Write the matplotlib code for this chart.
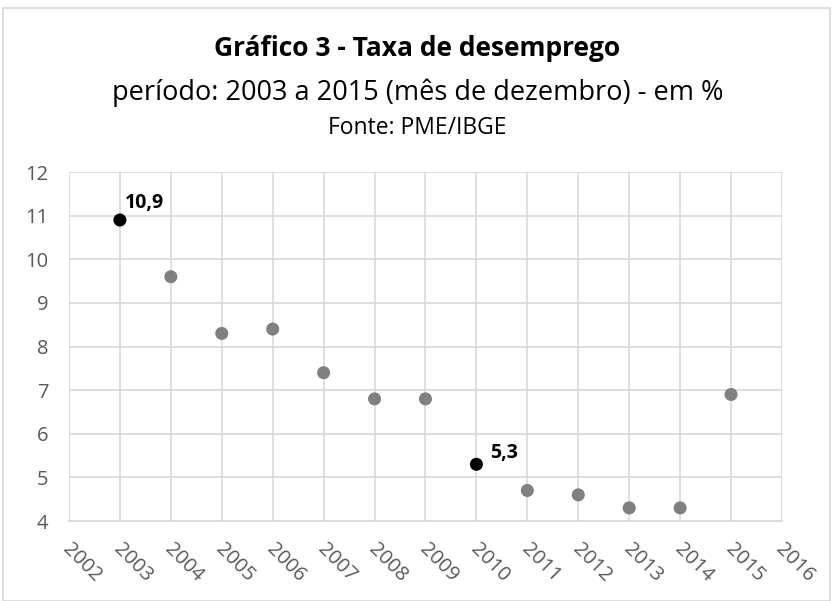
import matplotlib
matplotlib.use('Agg')
import matplotlib.pyplot as plt
from matplotlib.patches import Rectangle
from matplotlib.transforms import ScaledTranslation

years = [2003, 2004, 2005, 2006, 2007, 2008, 2009, 2010, 2011, 2012, 2013, 2014, 2015]
taxa = [10.9, 9.6, 8.3, 8.4, 7.4, 6.8, 6.8, 5.3, 4.7, 4.6, 4.3, 4.3, 6.9]
destaque = [2003, 2010]
x_ticks = list(range(2002, 2017))
y_ticks = list(range(4, 13))

# label offsets (points) for the highlighted values
label_off = {2003: (3.5, 8.5), 2010: (9.5, 4.5)}

plt.rcParams['font.family'] = ['Open Sans', 'DejaVu Sans']

fig = plt.figure(figsize=(8.35, 6.01), dpi=100)
ax = fig.add_axes([0.0826, 0.1331, 0.8539, 0.5807])

fig.patches.append(Rectangle((0.004, 0.0), 0.99, 0.986, transform=fig.transFigure,
                             fill=False, edgecolor='#d9d9d9', linewidth=1.2))

cores = ['black' if y in destaque else '#808080' for y in years]
ax.scatter(years, taxa, c=cores, s=88, zorder=3, edgecolors='none')

for y, v in zip(years, taxa):
    if y in destaque:
        ax.annotate(f'{v:.1f}'.replace('.', ','), (y, v), xytext=label_off[y],
                    textcoords='offset points', fontsize=14, fontweight='bold',
                    ha='left', va='baseline', color='black')

ax.set_xlim(2002, 2016)
ax.set_ylim(4, 12)
ax.set_xticks(x_ticks)
ax.set_yticks(y_ticks)
ax.set_yticklabels([str(t) for t in y_ticks], fontsize=14.5, color='#595959')
ax.set_xticklabels([str(t) for t in x_ticks], fontsize=14.5, color='#595959',
                   rotation=-45, rotation_mode='anchor', ha='left', va='center')
ax.tick_params(length=0)
ax.tick_params(axis='x', pad=0)
ax.tick_params(axis='y', pad=15)
offset = ScaledTranslation(-0.03, -0.25, fig.dpi_scale_trans)
for lab in ax.get_xticklabels():
    lab.set_transform(lab.get_transform() + offset)

ax.grid(True, color='#d9d9d9', linewidth=1.2)
ax.set_axisbelow(True)
for s in ['top', 'right', 'left']:
    ax.spines[s].set_visible(False)
ax.spines['bottom'].set_color('#d9d9d9')
ax.spines['bottom'].set_linewidth(1.2)

fig.text(0.5, 0.920, 'Gráfico 3 - Taxa de desemprego', ha='center', va='center',
         fontsize=19, fontweight='bold', color='black')
fig.text(0.5, 0.845, 'período: 2003 a 2015 (mês de dezembro) - em %', ha='center',
         va='center', fontsize=19.5, color='black')
fig.text(0.5, 0.787, 'Fonte: PME/IBGE', ha='center', va='center',
         fontsize=16.5, color='black')

fig.savefig('out.png', dpi=100)
